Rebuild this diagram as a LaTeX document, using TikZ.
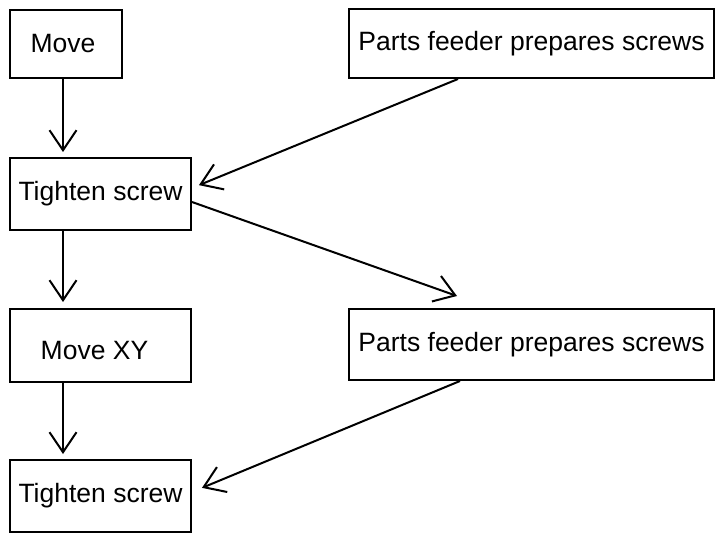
\documentclass[tikz,border=0pt]{standalone}
\usepackage{fontspec}
\setmainfont{Liberation Sans}
\usetikzlibrary{arrows.meta}
\begin{document}
\begin{tikzpicture}[x=1pt,y=-1pt,
  box/.style={draw, line width=2pt, inner sep=0pt, font=\fontsize{26.5}{30}\selectfont},
  arr/.style={line width=2pt, -{Straight Barb[length=20pt,width=27pt]}}]
\useasboundingbox (0,0) rectangle (719,534);
\node[box, minimum width=112pt, minimum height=68pt] (move) at (66,44) {\hspace{-6pt}Move};
\node[box, minimum width=365pt, minimum height=69pt] (feed1) at (531.5,43.5) {Parts feeder prepares screws};
\node[box, minimum width=181pt, minimum height=72pt] (tight1) at (100.5,194) {Tighten screw};
\node[box, minimum width=181pt, minimum height=73pt,
  label={[font=\fontsize{26.5}{30}\selectfont, inner sep=0pt, shift={(-6pt,-5pt)}]center:Move XY}] (movexy) at (100.5,345.5) {};
\node[box, minimum width=365pt, minimum height=71pt] (feed2) at (531.5,344.5) {Parts feeder prepares screws};
\node[box, minimum width=181pt, minimum height=72pt] (tight2) at (100.5,496) {Tighten screw};
\coordinate (cx) at (63,0);
\draw[arr, shorten >=5pt] (move.south -| cx) -- (tight1.north -| cx);
\draw[arr, shorten >=6pt] (tight1.south -| cx) -- (movexy.north -| cx);
\draw[arr, shorten >=5pt] (movexy.south -| cx) -- (tight2.north -| cx);
\draw[arr, shorten >=7.5pt] ([xshift=-73.5pt]feed1.south) -- ([yshift=6pt]tight1.east);
\draw[arr] ([yshift=-8pt]tight1.east) -- ([shift={(-74.5pt,12pt)}]feed2.north);
\draw[arr, shorten >=10.8pt] ([xshift=-71.5pt]feed2.south) -- ([yshift=4pt]tight2.east);
\end{tikzpicture}
\end{document}
